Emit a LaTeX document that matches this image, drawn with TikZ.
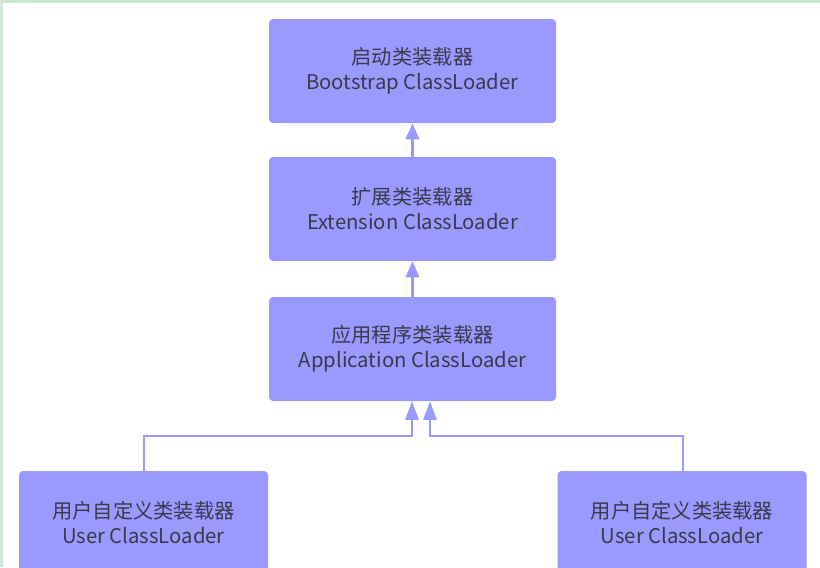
\documentclass[tikz,border=0pt]{standalone}
\usepackage{fontspec}
\setmainfont{Noto Sans CJK SC}
\usetikzlibrary{arrows.meta}
\definecolor{boxfill}{HTML}{9999FF}
\definecolor{txt}{HTML}{3A3A4A}
\definecolor{edge}{HTML}{CCE8D4}
\begin{document}
\begin{tikzpicture}[x=0.75pt,y=-0.75pt,
  loader/.style={fill=boxfill, draw=none, rounded corners=3pt, minimum width=215.25pt, minimum height=78pt, inner sep=0pt, align=center, text=txt, font=\fontsize{15.2}{18.8}\selectfont},
  userloader/.style={loader, minimum width=186.75pt},
  link/.style={draw=boxfill, line width=2pt, -{Triangle[length=12pt,width=10pt]}},
  sublink/.style={draw=boxfill, line width=1.5pt, -{Triangle[length=14pt,width=10pt]}}]
\useasboundingbox (0,0) rectangle (820,567);
\fill[white] (0,0) rectangle (820,567);
\fill[edge] (0,0) rectangle (820,3);
\fill[edge] (0,0) rectangle (3,567);
\node[loader] (boot) at (412.5,71) {启动类装载器\\Bootstrap ClassLoader};
\node[loader] (ext) at (412.5,209) {扩展类装载器\\Extension ClassLoader};
\node[loader] (app) at (412.5,349) {应用程序类装载器\\Application ClassLoader};
\node[userloader] (u1) at (143.5,523) {用户自定义类装载器\\User ClassLoader};
\node[userloader] (u2) at (682,523) {用户自定义类装载器\\User ClassLoader};
\coordinate (j1) at (144,436);
\coordinate (j2) at (683,436);
\draw[link] (ext.north) -- (boot.south);
\draw[link] (app.north) -- (ext.south);
\draw[sublink] (u1.north -| j1) -- (j1) -- (412,436) -- (app.south -| 412,0);
\draw[sublink] (u2.north -| j2) -- (j2) -- (430,436) -- (app.south -| 430,0);
\end{tikzpicture}
\end{document}
